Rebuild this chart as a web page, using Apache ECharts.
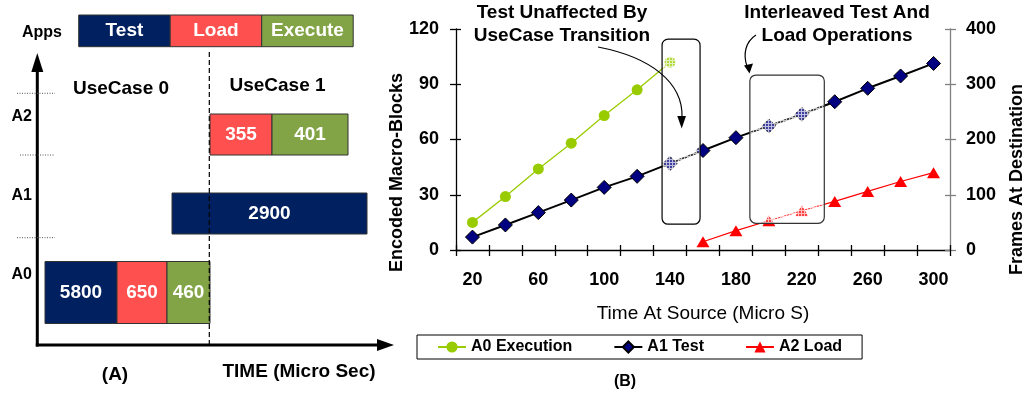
<!DOCTYPE html>
<html>
<head>
<meta charset="utf-8">
<script src="https://cdn.jsdelivr.net/npm/echarts@6/dist/echarts.min.js"></script>
<style>
  html, body { margin: 0; padding: 0; background: #fff; }
  #chart { width: 1028px; height: 396px; }
</style>
</head>
<body>
<div id="chart"></div>
<script>
// ---------- (B) progress of the three applications over time ----------
const timeCategories = ['20', '40', '60', '80', '100', '120', '140', '160', '180', '200', '220', '240', '260', '280', '300'];
const a0Execution = [15, 29, 44, 58, 73, 87, 102, null, null, null, null, null, null, null, null];
const a1Test = [7, 13.6, 20.3, 27.1, 34, 40, 47, 54, 61, 67.3, 73.7, 80.5, 87.8, 94.5, 101.3];
const a2Load = [null, null, null, null, null, null, null, 15, 35, 53, 71, 88, 106, 124, 140];
const seriesNames = ['A0 Execution', 'A1 Test', 'A2 Load'];
const leftAxisRange = [0, 120, 30];
const rightAxisRange = [0, 400, 100];

// ---------- (A) schedule of test / load / execute phases ----------
const apps = ['A0', 'A1', 'A2'];
const phases = ['Test', 'Load', 'Execute'];
const taskApp = [0, 0, 0, 1, 2, 2];
const taskPhase = [0, 1, 2, 0, 1, 2];
const taskStart = [8, 80, 130, 135, 173, 235];
const taskEnd = [80, 130, 173, 330, 235, 311];
const taskDuration = [5800, 650, 460, 2900, 355, 401];
const useCaseSwitch = 173;
const useCases = ['UseCase 0', 'UseCase 1'];

const FONT = '"Liberation Sans", Arial, Helvetica, sans-serif';
const phaseColors = ['#002060', '#FF5050', '#82A446'];
const rowHeight = [62, 41, 41];

const chart = echarts.init(document.getElementById('chart'), null, { renderer: 'canvas' });

const boldText = (size) => ({ color: '#000', fontFamily: FONT, fontWeight: 'bold', fontSize: size });

const option = {
  animation: false,
  backgroundColor: '#fff',
  grid: [
    { left: 456, right: 78, top: 29, bottom: 146, containLabel: false, outerBoundsMode: 'none' },
    { left: 37, top: 134.5, width: 356, height: 158, containLabel: false, outerBoundsMode: 'none' }
  ],
  legend: {
    left: 417, top: 335,
    orient: 'horizontal',
    padding: [4, 20, 4, 20],
    itemGap: 41, itemWidth: 28, itemHeight: 14,
    borderColor: '#000', borderWidth: 1,
    data: seriesNames,
    textStyle: boldText(16)
  },
  xAxis: [
    {
      type: 'category', gridIndex: 0, data: timeCategories, boundaryGap: true,
      axisLine: { show: true, lineStyle: { color: '#000', width: 1.3 } },
      axisTick: { show: true, interval: 0, length: 6, lineStyle: { color: '#000', width: 1.3 } },
      axisLabel: Object.assign({ interval: 1, margin: 21 }, boldText(18)),
      splitLine: { show: false },
      name: 'Time At Source (Micro S)', nameLocation: 'middle', nameGap: 54, nameMoveOverlap: false,
      nameTextStyle: { color: '#000', fontFamily: FONT, fontSize: 19 }
    },
    {
      type: 'value', gridIndex: 1, min: 0, max: 356, show: false
    },
    {
      type: 'category', gridIndex: 0, data: timeCategories, boundaryGap: true, position: 'bottom',
      axisLine: { show: false },
      axisTick: { show: true, inside: true, interval: 0, length: 5, lineStyle: { color: '#000', width: 1.3 } },
      axisLabel: { show: false }, splitLine: { show: false }
    }
  ],
  yAxis: [
    {
      type: 'value', gridIndex: 0, position: 'left',
      min: leftAxisRange[0], max: leftAxisRange[1], interval: leftAxisRange[2],
      axisLine: { show: true, lineStyle: { color: '#000', width: 1.3 } },
      axisTick: { show: true, length: 6, lineStyle: { color: '#000', width: 1.3 } },
      axisLabel: Object.assign({ margin: 17 }, boldText(18)),
      splitLine: { show: false },
      name: 'Encoded Macro-Blocks', nameLocation: 'middle', nameGap: 50, nameMoveOverlap: false,
      nameTextStyle: Object.assign({ padding: [0, 66, 0, 0] }, boldText(18))
    },
    {
      type: 'value', gridIndex: 0, position: 'right',
      min: rightAxisRange[0], max: rightAxisRange[1], interval: rightAxisRange[2],
      axisLine: { show: true, lineStyle: { color: '#808080', width: 1.3 } },
      axisTick: { show: true, length: 6, lineStyle: { color: '#808080', width: 1.3 } },
      axisLabel: Object.assign({ margin: 16 }, boldText(18)),
      splitLine: { show: false },
      name: 'Frames At Destination', nameLocation: 'middle', nameGap: 58, nameMoveOverlap: false,
      nameTextStyle: Object.assign({ padding: [0, 80, 0, 0] }, boldText(18))
    },
    {
      type: 'value', gridIndex: 1, min: 0, max: 2, interval: 1,
      axisLine: { show: false }, axisTick: { show: false }, splitLine: { show: false },
      axisLabel: Object.assign({
        margin: 5, verticalAlign: 'bottom', padding: [0, 0, 10, 0],
        formatter: (v) => apps[v] || ''
      }, boldText(16))
    },
    {
      type: 'value', gridIndex: 0, position: 'left',
      min: leftAxisRange[0], max: leftAxisRange[1], interval: leftAxisRange[2],
      axisLine: { show: false },
      axisTick: { show: true, inside: true, length: 5, lineStyle: { color: '#000', width: 1.3 } },
      axisLabel: { show: false }, splitLine: { show: false }
    },
    {
      type: 'value', gridIndex: 0, position: 'right',
      min: rightAxisRange[0], max: rightAxisRange[1], interval: rightAxisRange[2],
      axisLine: { show: false },
      axisTick: { show: true, inside: true, length: 5, lineStyle: { color: '#808080', width: 1.3 } },
      axisLabel: { show: false }, splitLine: { show: false }
    }
  ],
  series: [
    {
      name: seriesNames[0], type: 'line', xAxisIndex: 0, yAxisIndex: 0,
      data: a0Execution, symbol: 'circle', symbolSize: 11,
      color: '#99CC00',
      itemStyle: { color: '#99CC00' },
      lineStyle: { color: '#99CC00', width: 1.3 },
      z: 3
    },
    {
      name: seriesNames[1], type: 'line', xAxisIndex: 0, yAxisIndex: 0,
      data: a1Test, symbol: 'diamond', symbolSize: 14,
      color: '#000080',
      itemStyle: { color: '#000080', borderColor: '#000', borderWidth: 1 },
      lineStyle: { color: '#000', width: 2 },
      z: 3
    },
    {
      name: seriesNames[2], type: 'line', xAxisIndex: 0, yAxisIndex: 1,
      data: a2Load, symbol: 'triangle', symbolSize: [13, 11],
      color: '#FF0000',
      itemStyle: { color: '#FF0000' },
      lineStyle: { color: '#FF0000', width: 1.2 },
      z: 3
    },
    {
      name: 'schedule', type: 'custom', xAxisIndex: 1, yAxisIndex: 2,
      dimensions: ['start', 'end', 'app', 'phase', 'duration'],
      encode: { x: [0, 1], y: 2 },
      data: taskStart.map((s, i) => [s, taskEnd[i], taskApp[i], taskPhase[i], taskDuration[i]]),
      renderItem: (params, api) => {
        const lvl = api.value(2);
        const a = api.coord([api.value(0), lvl]);
        const b = api.coord([api.value(1), lvl]);
        const h = rowHeight[lvl];
        return {
          type: 'rect',
          shape: { x: a[0], y: a[1] - h / 2, width: b[0] - a[0], height: h },
          style: { fill: phaseColors[api.value(3)], stroke: '#333', lineWidth: 1 },
          textContent: {
            style: { text: String(api.value(4)), fill: '#fff', font: 'bold 19px ' + FONT }
          },
          textConfig: { position: 'inside' }
        };
      }
    }
  ]
};

chart.setOption(option);

// ---------- annotations ----------
function hatchPattern() {
  const c = document.createElement('canvas');
  c.width = 3; c.height = 3;
  const g = c.getContext('2d');
  g.fillStyle = 'rgba(255,255,255,0.25)';
  g.fillRect(0, 0, 3, 3);
  g.clearRect(0, 0, 3, 1);
  g.clearRect(0, 0, 1, 3);
  g.fillStyle = 'rgba(255,255,255,0.75)';
  g.fillRect(0, 0, 3, 1);
  g.fillRect(0, 1, 1, 2);
  return { image: c, repeat: 'repeat' };
}

const px = (cat, v) => chart.convertToPixel({ xAxisIndex: 0, yAxisIndex: 0 }, [cat, v]);
const tx = (t) => chart.convertToPixel({ xAxisIndex: 1, yAxisIndex: 2 }, [t, 0])[0];

const graphics = [];

// shaded highlight boxes over the traces
const box1L = px('140', 0)[0] - 8, box1R = px('140', 0)[0] + 30;
const box1T = px('140', 114.5)[1], box1B = px('140', 14)[1];
const box2L = px('200', 0)[0] - 19, box2R = px('220', 0)[0] + 22.5;
const box2T = px('200', 95)[1], box2B = px('200', 14.5)[1];
[[box1L, box1T, box1R, box1B, '#000'], [box2L, box2T, box2R, box2B, '#333']].forEach(([l, t, r, b, col]) => {
  graphics.push({
    type: 'rect', z: 100,
    shape: { x: l, y: t, width: r - l, height: b - t, r: 6 },
    style: { fill: hatchPattern(), stroke: col, lineWidth: 1.2 }
  });
});

// callout texts and arrows
const calloutFont = 'bold 19px ' + FONT;
graphics.push(
  { type: 'text', z: 101, style: { x: 562, y: 24, text: 'Test Unaffected By\nUseCase Transition', font: calloutFont, fill: '#000', align: 'center', verticalAlign: 'middle', lineHeight: 23 } },
  { type: 'text', z: 101, style: { x: 837, y: 24, text: 'Interleaved Test And\nLoad Operations', font: calloutFont, fill: '#000', align: 'center', verticalAlign: 'middle', lineHeight: 23 } },
  { type: 'bezierCurve', z: 101, shape: { x1: 598, y1: 47, cpx1: 650, cpy1: 57, cpx2: 683, cpy2: 82, x2: 682, y2: 117 }, style: { stroke: '#000', lineWidth: 1.2, fill: null } },
  { type: 'polygon', z: 101, shape: { points: [[681.7, 128.5], [677.3, 116], [686, 116]] }, style: { fill: '#000' } },
  { type: 'bezierCurve', z: 101, shape: { x1: 756, y1: 35, cpx1: 745, cpy1: 42, cpx2: 743, cpy2: 55, x2: 747, y2: 66 }, style: { stroke: '#000', lineWidth: 1.2, fill: null } },
  { type: 'polygon', z: 101, shape: { points: [[749.5, 73.5], [744, 65.5], [753, 63.5]] }, style: { fill: '#000' } },
  { type: 'text', z: 101, style: { x: 625, y: 382, text: '(B)', font: 'bold 16px ' + FONT, fill: '#000', align: 'center', verticalAlign: 'middle' } }
);

// (A) phase key
phases.forEach((p, i) => {
  const x0 = 78.7 + i * 91.5;
  graphics.push(
    {
      type: 'rect', z: 50,
      shape: { x: x0, y: 15, width: 91.5, height: 31.7 },
      style: { fill: phaseColors[i], stroke: '#333', lineWidth: 1 }
    },
    {
      type: 'text', z: 51,
      style: { x: x0 + 45.75, y: 31, text: p, fill: '#fff', font: 'bold 19px ' + FONT, align: 'center', verticalAlign: 'middle' }
    }
  );
});
graphics.push({ type: 'text', z: 50, style: { x: 42, y: 33, text: 'Apps', font: 'bold 16px ' + FONT, fill: '#000', align: 'center', verticalAlign: 'middle' } });

// (A) axes drawn as arrows
const axX = 37.3, axY = 345;
graphics.push(
  { type: 'line', z: 50, shape: { x1: axX, y1: axY + 1.5, x2: axX, y2: 70 }, style: { stroke: '#000', lineWidth: 3 } },
  { type: 'polygon', z: 50, shape: { points: [[axX, 53], [axX - 6, 72], [axX + 6, 72]] }, style: { fill: '#000' } },
  { type: 'line', z: 50, shape: { x1: axX - 1.5, y1: axY, x2: 380, y2: axY }, style: { stroke: '#000', lineWidth: 3 } },
  { type: 'polygon', z: 50, shape: { points: [[394, axY], [377, axY - 6], [377, axY + 6]] }, style: { fill: '#000' } }
);

// row separators
[[17, 93.3], [20, 155], [17, 237.7]].forEach(([x, y]) => {
  graphics.push({ type: 'line', z: 50, shape: { x1: x, y1: y, x2: 55, y2: y }, style: { stroke: '#555', lineWidth: 1, lineDash: [1, 1.5] } });
});

// use-case switch marker
const swX = tx(useCaseSwitch) - 0.7;
graphics.push({ type: 'line', z: 60, shape: { x1: swX, y1: 52, x2: swX, y2: axY }, style: { stroke: '#000', lineWidth: 1.2, lineDash: [5, 3] } });

graphics.push(
  { type: 'text', z: 50, style: { x: 121, y: 89, text: useCases[0], font: 'bold 19px ' + FONT, fill: '#000', align: 'center', verticalAlign: 'middle' } },
  { type: 'text', z: 50, style: { x: 277.5, y: 86, text: useCases[1], font: 'bold 19px ' + FONT, fill: '#000', align: 'center', verticalAlign: 'middle' } },
  { type: 'text', z: 50, style: { x: 115, y: 375, text: '(A)', font: 'bold 19px ' + FONT, fill: '#000', align: 'center', verticalAlign: 'middle' } },
  { type: 'text', z: 50, style: { x: 299, y: 372, text: 'TIME (Micro Sec)', font: 'bold 19px ' + FONT, fill: '#000', align: 'center', verticalAlign: 'middle' } }
);

chart.setOption({ graphic: { elements: graphics } });
</script>
</body>
</html>
